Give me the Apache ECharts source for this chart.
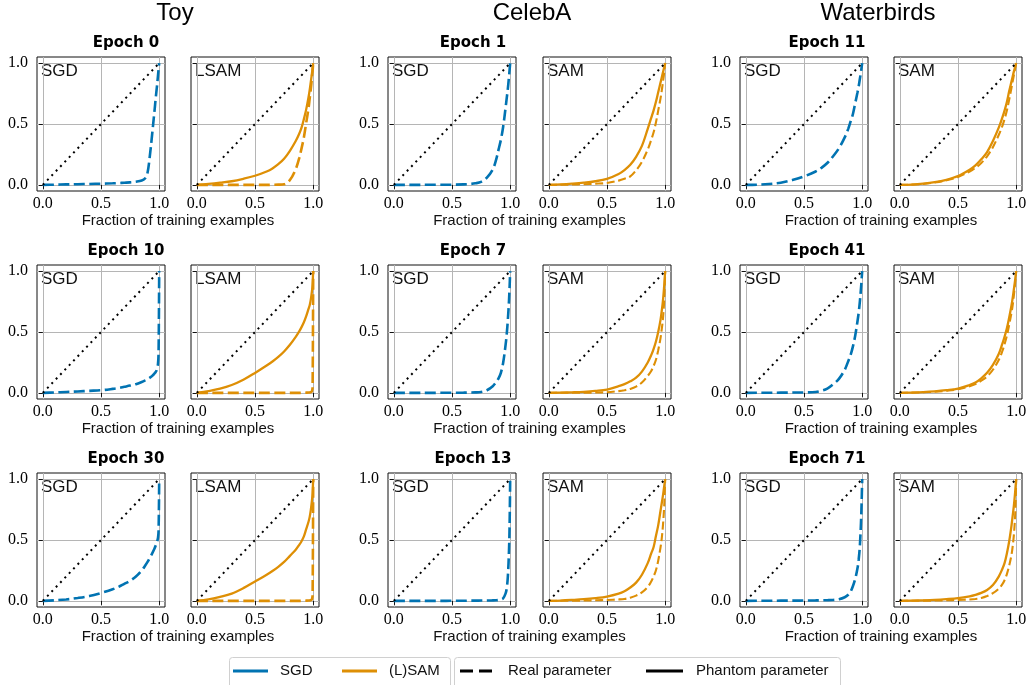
<!DOCTYPE html>
<html>
<head>
<meta charset="utf-8">
<script src="https://cdn.jsdelivr.net/npm/echarts@6/dist/echarts.min.js"></script>
<style>
  html, body { margin: 0; padding: 0; background: #fff; }
  #chart { width: 1026px; height: 685px; }
</style>
</head>
<body>
<div id="chart"></div>
<script>
// fraction of training examples (shared x grid)
const fracX = [0, 0.1, 0.2, 0.3, 0.4, 0.5, 0.6, 0.65, 0.7, 0.75, 0.8, 0.85, 0.88, 0.9, 0.92, 0.94, 0.96, 0.97, 0.98, 0.99, 0.995, 1]
const tickVals = [0, 0.5, 1]

const datasetNames = ['Toy', 'CelebA', 'Waterbirds']
const samNames = ['LSAM', 'SAM', 'SAM']
const epochs = [[0, 10, 30], [1, 7, 13], [11, 41, 71]]

// Toy
const toySgdEp0 = [0, 0.002, 0.004, 0.006, 0.008, 0.01, 0.013, 0.015, 0.018, 0.021, 0.026, 0.036, 0.055, 0.1, 0.24, 0.42, 0.61, 0.71, 0.8, 0.9, 0.95, 1]
const toySgdEp10 = [0, 0.004, 0.008, 0.012, 0.017, 0.022, 0.033, 0.04, 0.05, 0.06, 0.072, 0.09, 0.103, 0.113, 0.125, 0.14, 0.16, 0.172, 0.19, 0.24, 0.35, 1]
const toySgdEp30 = [0, 0.005, 0.012, 0.024, 0.04, 0.065, 0.095, 0.115, 0.14, 0.165, 0.2, 0.25, 0.29, 0.32, 0.355, 0.39, 0.43, 0.455, 0.48, 0.52, 0.58, 1]
const toyLsamPhantomEp0 = [0, 0.008, 0.018, 0.03, 0.05, 0.075, 0.11, 0.135, 0.17, 0.215, 0.28, 0.36, 0.42, 0.47, 0.54, 0.62, 0.72, 0.78, 0.85, 0.92, 0.96, 1]
const toyLsamRealEp0 = [0, 0, 0, 0, 0, 0, 0, 0.001, 0.002, 0.005, 0.04, 0.13, 0.22, 0.3, 0.39, 0.51, 0.63, 0.71, 0.79, 0.89, 0.94, 1]
const toyLsamPhantomEp10 = [0, 0.015, 0.035, 0.065, 0.108, 0.164, 0.225, 0.258, 0.295, 0.34, 0.395, 0.46, 0.505, 0.54, 0.58, 0.63, 0.69, 0.72, 0.77, 0.84, 0.9, 1]
const toyLsamRealEp10 = [0, 0, 0, 0, 0, 0, 0, 0, 0, 0, 0, 0, 0, 0.001, 0.001, 0.002, 0.003, 0.004, 0.006, 0.015, 0.05, 1]
const toyLsamPhantomEp30 = [0, 0.012, 0.033, 0.06, 0.105, 0.16, 0.215, 0.245, 0.28, 0.32, 0.37, 0.42, 0.46, 0.49, 0.53, 0.59, 0.65, 0.69, 0.75, 0.83, 0.89, 1]
const toyLsamRealEp30 = [0, 0, 0, 0, 0, 0, 0, 0, 0, 0, 0, 0, 0, 0.001, 0.001, 0.002, 0.003, 0.004, 0.006, 0.015, 0.05, 1]

// CelebA
const celebaSgdEp1 = [0, 0, 0, 0.001, 0.001, 0.002, 0.004, 0.007, 0.013, 0.025, 0.06, 0.126, 0.21, 0.29, 0.37, 0.48, 0.63, 0.71, 0.79, 0.89, 0.945, 1]
const celebaSgdEp7 = [0, 0, 0, 0, 0.001, 0.001, 0.002, 0.003, 0.004, 0.008, 0.022, 0.055, 0.09, 0.12, 0.165, 0.25, 0.39, 0.48, 0.6, 0.76, 0.87, 1]
const celebaSgdEp13 = [0, 0, 0, 0, 0, 0.001, 0.001, 0.002, 0.002, 0.003, 0.003, 0.004, 0.005, 0.007, 0.011, 0.022, 0.06, 0.1, 0.2, 0.42, 0.62, 1]
const celebaSamPhantomEp1 = [0, 0.004, 0.01, 0.018, 0.03, 0.05, 0.09, 0.122, 0.165, 0.23, 0.32, 0.46, 0.55, 0.61, 0.68, 0.76, 0.84, 0.88, 0.92, 0.96, 0.98, 1]
const celebaSamRealEp1 = [0, 0.001, 0.003, 0.006, 0.01, 0.016, 0.035, 0.05, 0.07, 0.12, 0.19, 0.29, 0.37, 0.43, 0.51, 0.61, 0.71, 0.77, 0.84, 0.91, 0.955, 1]
const celebaSamPhantomEp7 = [0, 0.002, 0.005, 0.009, 0.016, 0.027, 0.055, 0.072, 0.095, 0.125, 0.175, 0.25, 0.31, 0.36, 0.42, 0.5, 0.6, 0.67, 0.75, 0.86, 0.93, 1]
const celebaSamRealEp7 = [0, 0.001, 0.001, 0.002, 0.003, 0.006, 0.015, 0.022, 0.033, 0.052, 0.085, 0.14, 0.18, 0.22, 0.27, 0.35, 0.45, 0.52, 0.6, 0.73, 0.84, 1]
const celebaSamPhantomEp13 = [0, 0.003, 0.008, 0.014, 0.023, 0.036, 0.06, 0.08, 0.11, 0.15, 0.215, 0.31, 0.39, 0.44, 0.53, 0.62, 0.74, 0.8, 0.86, 0.93, 0.965, 1]
const celebaSamRealEp13 = [0, 0.001, 0.002, 0.003, 0.005, 0.008, 0.012, 0.016, 0.026, 0.043, 0.07, 0.115, 0.16, 0.2, 0.25, 0.33, 0.44, 0.51, 0.61, 0.75, 0.86, 1]

// Waterbirds
const birdsSgdEp11 = [0, 0.002, 0.008, 0.018, 0.04, 0.07, 0.11, 0.14, 0.18, 0.235, 0.3, 0.39, 0.46, 0.52, 0.58, 0.67, 0.76, 0.81, 0.87, 0.93, 0.965, 1]
const birdsSgdEp41 = [0, 0.001, 0.001, 0.002, 0.003, 0.004, 0.008, 0.018, 0.035, 0.07, 0.115, 0.19, 0.26, 0.31, 0.38, 0.47, 0.59, 0.66, 0.75, 0.86, 0.93, 1]
const birdsSgdEp71 = [0, 0.001, 0.001, 0.002, 0.002, 0.003, 0.004, 0.005, 0.006, 0.008, 0.014, 0.03, 0.05, 0.075, 0.12, 0.18, 0.27, 0.34, 0.45, 0.65, 0.8, 1]
const birdsSamPhantomEp11 = [0, 0.003, 0.01, 0.022, 0.042, 0.073, 0.125, 0.16, 0.21, 0.27, 0.36, 0.47, 0.55, 0.61, 0.68, 0.77, 0.85, 0.89, 0.93, 0.965, 0.983, 1]
const birdsSamRealEp11 = [0, 0.002, 0.008, 0.02, 0.038, 0.065, 0.11, 0.14, 0.18, 0.235, 0.31, 0.41, 0.48, 0.54, 0.61, 0.7, 0.8, 0.85, 0.9, 0.95, 0.975, 1]
const birdsSamPhantomEp41 = [0, 0.003, 0.007, 0.013, 0.022, 0.035, 0.065, 0.085, 0.12, 0.165, 0.23, 0.32, 0.4, 0.46, 0.53, 0.62, 0.72, 0.78, 0.85, 0.92, 0.96, 1]
const birdsSamRealEp41 = [0, 0.002, 0.005, 0.01, 0.018, 0.03, 0.055, 0.072, 0.1, 0.135, 0.19, 0.27, 0.34, 0.4, 0.47, 0.56, 0.66, 0.72, 0.8, 0.89, 0.945, 1]
const birdsSamPhantomEp71 = [0, 0.002, 0.005, 0.009, 0.015, 0.023, 0.038, 0.05, 0.066, 0.09, 0.13, 0.2, 0.26, 0.31, 0.39, 0.49, 0.62, 0.7, 0.78, 0.88, 0.94, 1]
const birdsSamRealEp71 = [0, 0.001, 0.002, 0.003, 0.005, 0.008, 0.012, 0.016, 0.024, 0.04, 0.063, 0.1, 0.135, 0.17, 0.22, 0.29, 0.38, 0.45, 0.54, 0.68, 0.8, 1]

// equality line (dotted)
const equalityX = [0, 1]
const equalityY = [0, 1]

const sgdCurves = [
  [toySgdEp0, toySgdEp10, toySgdEp30],
  [celebaSgdEp1, celebaSgdEp7, celebaSgdEp13],
  [birdsSgdEp11, birdsSgdEp41, birdsSgdEp71]
]
const samPhantom = [
  [toyLsamPhantomEp0, toyLsamPhantomEp10, toyLsamPhantomEp30],
  [celebaSamPhantomEp1, celebaSamPhantomEp7, celebaSamPhantomEp13],
  [birdsSamPhantomEp11, birdsSamPhantomEp41, birdsSamPhantomEp71]
]
const samReal = [
  [toyLsamRealEp0, toyLsamRealEp10, toyLsamRealEp30],
  [celebaSamRealEp1, celebaSamRealEp7, celebaSamRealEp13],
  [birdsSamRealEp11, birdsSamRealEp41, birdsSamRealEp71]
]

const BLUE = '#0173b2'
const ORANGE = '#de8f05'
const SANS = '"Liberation Sans", Arial, sans-serif'
const SERIF = '"Liberation Serif", serif'

// layout
const colLeft = [37, 191, 388, 543, 740, 894]
const rowTop = [57, 265, 473]
const boxW = 128
const boxH = 134
const titleX = [175, 532, 878]
const epochX = [126, 473, 827]

const toPairs = ys => fracX.map((x, i) => [x, ys[i]])

const grids = []
const xAxes = []
const yAxes = []
const series = []
const graphics = []

for (let r = 0; r < 3; r++) {
  for (let c = 0; c < 6; c++) {
    const idx = r * 6 + c
    const d = Math.floor(c / 2)
    const isSam = c % 2 === 1
    grids.push({
      left: colLeft[c], top: rowTop[r], width: boxW, height: boxH,
      show: true, borderColor: '#111', borderWidth: 1,
      containLabel: false, outerBoundsMode: 'none'
    })
    const axisCommon = {
      type: 'value', gridIndex: idx, min: -0.05, max: 1.05,
      axisLine: {show: false},
      axisTick: {show: true, length: 4, customValues: tickVals, lineStyle: {color: '#111', width: 1}},
      splitLine: {show: true, lineStyle: {color: '#b5b5b5', width: 1}}
    }
    xAxes.push(Object.assign({}, axisCommon, {
      axisLabel: {
        customValues: tickVals, formatter: v => v.toFixed(1),
        fontFamily: SERIF, fontSize: 16, color: '#000', margin: 5
      }
    }))
    yAxes.push(Object.assign({}, axisCommon, {
      axisLabel: {
        show: !isSam, customValues: tickVals, formatter: v => v.toFixed(1),
        fontFamily: SERIF, fontSize: 16, color: '#000', margin: 9
      }
    }))

    const base = {
      type: 'line', xAxisIndex: idx, yAxisIndex: idx, symbol: 'none',
      smooth: 0.35, silent: true, animation: false
    }
    if (!isSam) {
      series.push(Object.assign({}, base, {
        data: toPairs(sgdCurves[d][r]),
        lineStyle: {color: BLUE, width: 2.6, type: [11, 4.5]}
      }))
    } else {
      const thinDash = d > 0
      series.push(Object.assign({}, base, {
        data: toPairs(samReal[d][r]),
        lineStyle: {color: ORANGE, width: thinDash ? 2.1 : 2.6, type: thinDash ? [8, 3.6] : [11, 4.5]}
      }))
      series.push(Object.assign({}, base, {
        data: toPairs(samPhantom[d][r]),
        lineStyle: {color: ORANGE, width: 2.3}
      }))
    }
    series.push(Object.assign({}, base, {
      smooth: false,
      data: equalityX.map((x, i) => [x, equalityY[i]]),
      lineStyle: {color: '#000', width: 2, type: [2, 4.3]}
    }))

    // panel tag
    graphics.push({
      type: 'text', x: colLeft[c] + 4, y: rowTop[r] + 14,
      style: {text: isSam ? samNames[d] : 'SGD', font: '17px ' + SANS, fill: '#111', textAlign: 'left', textVerticalAlign: 'middle'}
    })
    if (!isSam) {
      graphics.push({
        type: 'text', x: epochX[d], y: rowTop[r] - 14,
        style: {text: 'Epoch ' + epochs[d][r], font: 'bold 15px "DejaVu Sans", sans-serif', fill: '#000', textAlign: 'center', textVerticalAlign: 'middle'}
      })
      graphics.push({
        type: 'text', x: (colLeft[c] + colLeft[c + 1] + boxW) / 2, y: rowTop[r] + boxH + 30,
        style: {text: 'Fraction of training examples', font: '15px ' + SANS, fill: '#111', textAlign: 'center', textVerticalAlign: 'middle'}
      })
    }
  }
}

datasetNames.forEach((name, d) => {
  graphics.push({
    type: 'text', x: titleX[d], y: 13,
    style: {text: name, font: '24px ' + SANS, fill: '#000', textAlign: 'center', textVerticalAlign: 'middle'}
  })
})

// legend boxes
const legY = 671
graphics.push(
  {type: 'rect', shape: {x: 229.5, y: 657.5, width: 221, height: 40, r: 3}, style: {fill: '#fff', stroke: '#d0d0d0', lineWidth: 1}},
  {type: 'rect', shape: {x: 454.5, y: 657.5, width: 386, height: 40, r: 3}, style: {fill: '#fff', stroke: '#d0d0d0', lineWidth: 1}},
  {type: 'line', shape: {x1: 233, y1: legY, x2: 268, y2: legY}, style: {stroke: BLUE, lineWidth: 3}},
  {type: 'line', shape: {x1: 342, y1: legY, x2: 377, y2: legY}, style: {stroke: ORANGE, lineWidth: 3}},
  {type: 'line', shape: {x1: 460, y1: legY, x2: 492, y2: legY}, style: {stroke: '#000', lineWidth: 3, lineDash: [13, 6]}},
  {type: 'line', shape: {x1: 646, y1: legY, x2: 683, y2: legY}, style: {stroke: '#000', lineWidth: 3}},
  {type: 'text', x: 280, y: legY, style: {text: 'SGD', font: '15px ' + SANS, fill: '#111', textVerticalAlign: 'middle'}},
  {type: 'text', x: 389, y: legY, style: {text: '(L)SAM', font: '15px ' + SANS, fill: '#111', textVerticalAlign: 'middle'}},
  {type: 'text', x: 508, y: legY, style: {text: 'Real parameter', font: '15px ' + SANS, fill: '#111', textVerticalAlign: 'middle'}},
  {type: 'text', x: 696, y: legY, style: {text: 'Phantom parameter', font: '15px ' + SANS, fill: '#111', textVerticalAlign: 'middle'}}
)

const chart = echarts.init(document.getElementById('chart'))
chart.setOption({
  animation: false,
  backgroundColor: '#fff',
  grid: grids,
  xAxis: xAxes,
  yAxis: yAxes,
  series: series,
  graphic: graphics
})
</script>
</body>
</html>
